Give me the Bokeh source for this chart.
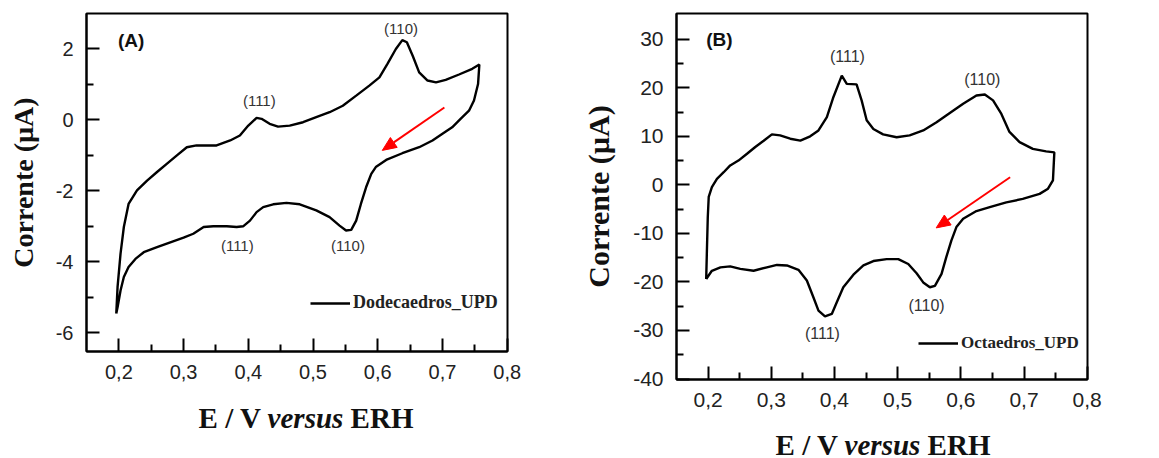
import math
from jinja2 import Template
from bokeh.plotting import figure
from bokeh.models import (FixedTicker, CustomJSTickFormatter, Label, Legend, LegendItem,
                          Range1d, Div)
from bokeh.embed import file_html
from bokeh.resources import INLINE

# ---------------- data: panel A (Dodecaedros) ----------------
E_A_anodic = [0.196, 0.198, 0.2026, 0.2077, 0.215, 0.228, 0.2436, 0.259, 0.274, 0.2897, 0.305, 0.320,
              0.336, 0.351, 0.372, 0.387, 0.400, 0.4128, 0.4205, 0.433, 0.446, 0.464, 0.4846, 0.505,
              0.5256, 0.546, 0.5667, 0.587, 0.6026, 0.615, 0.628, 0.638, 0.645, 0.654, 0.664, 0.677,
              0.690, 0.705, 0.7256, 0.746, 0.757]
I_A_anodic = [-5.46, -4.71, -3.77, -3.02, -2.37, -1.99, -1.71, -1.47, -1.24, -1.00, -0.77, -0.72,
              -0.72, -0.72, -0.58, -0.44, -0.16, 0.056, 0.03, -0.11, -0.19, -0.16, -0.066, 0.075,
              0.216, 0.40, 0.685, 0.967, 1.20, 1.58, 2.0, 2.25, 2.19, 1.81, 1.34, 1.11,
              1.06, 1.13, 1.28, 1.44, 1.56]
E_A_cathodic = [0.757, 0.755, 0.7487, 0.741, 0.728, 0.715, 0.700, 0.6846, 0.664, 0.638, 0.613, 0.597,
                0.590, 0.582, 0.574, 0.5667, 0.559, 0.551, 0.541, 0.5256, 0.505, 0.4795, 0.459, 0.4385,
                0.423, 0.4128, 0.4026, 0.392, 0.382, 0.3667, 0.346, 0.331, 0.315, 0.300, 0.2795, 0.259,
                0.2385, 0.2256, 0.215, 0.2077, 0.2026, 0.198, 0.196]
I_A_cathodic = [1.56, 1.01, 0.545, 0.26, 0.028, -0.21, -0.39, -0.58, -0.77, -0.94, -1.13, -1.33,
                -1.52, -1.90, -2.37, -2.84, -3.10, -3.12, -2.98, -2.74, -2.55, -2.38, -2.34, -2.38,
                -2.46, -2.60, -2.84, -3.00, -3.02, -3.00, -3.00, -3.02, -3.21, -3.32, -3.45, -3.59,
                -3.73, -3.92, -4.15, -4.43, -4.81, -5.28, -5.46]

# ---------------- data: panel B (Octaedros) ----------------
E_B_anodic = [0.197, 0.198, 0.1995, 0.201, 0.206, 0.214, 0.2247, 0.235, 0.248, 0.2616, 0.2747, 0.288,
              0.301, 0.314, 0.330, 0.346, 0.3616, 0.3747, 0.388, 0.3984, 0.4116, 0.4195, 0.435, 0.443,
              0.451, 0.4616, 0.477, 0.4984, 0.519, 0.5405, 0.5616, 0.5826, 0.6037, 0.6247, 0.638, 0.651,
              0.6642, 0.677, 0.693, 0.714, 0.735, 0.748]
I_B_anodic = [-19.4, -14.2, -6.67, -2.5, -0.48, 1.24, 2.6, 4.0, 5.0, 6.4, 7.8, 9.1,
              10.4, 10.2, 9.5, 9.1, 10.0, 11.2, 13.95, 18.1, 22.5, 20.8, 20.7, 17.4,
              13.3, 11.5, 10.4, 9.8, 10.2, 11.2, 12.9, 14.8, 16.7, 18.4, 18.6, 17.4,
              14.6, 10.9, 8.8, 7.4, 6.9, 6.7]
E_B_cathodic = [0.748, 0.7458, 0.738, 0.7247, 0.698, 0.672, 0.6458, 0.6247, 0.6037, 0.593, 0.585, 0.577,
                0.5695, 0.559, 0.551, 0.5405, 0.530, 0.5168, 0.501, 0.4826, 0.4616, 0.4458, 0.430, 0.414,
                0.4037, 0.3958, 0.385, 0.3747, 0.3668, 0.3563, 0.343, 0.3247, 0.309, 0.293, 0.272, 0.251,
                0.235, 0.2195, 0.206, 0.197]
I_B_cathodic = [6.7, 0.9, -0.8, -1.86, -2.9, -3.6, -4.6, -5.4, -7.0, -8.7, -11.5, -14.9,
                -18.35, -20.8, -21.1, -20.1, -18.2, -16.3, -15.3, -15.3, -15.7, -16.6, -18.5, -21.1,
                -24.2, -26.6, -27.1, -25.9, -23.2, -19.7, -17.5, -16.6, -16.5, -17.0, -17.7, -17.3,
                -16.8, -17.0, -17.7, -19.4]

# axis ranges and ticks
x_lim = (0.15, 0.8005)
y_lim_A = (-6.53, 3.0)
y_lim_B = (-40.1, 35.3)
x_ticks = [0.2, 0.3, 0.4, 0.5, 0.6, 0.7, 0.8]
x_minor = [0.25, 0.35, 0.45, 0.55, 0.65, 0.75]
y_ticks_A = [-6, -4, -2, 0, 2]
y_minor_A = [-5, -3, -1, 1]
y_ticks_B = [-40, -30, -20, -10, 0, 10, 20, 30]
y_minor_B = [-35, -25, -15, -5, 5, 15, 25]

# peak annotations (text, E, I)
peaks_A = [("(110)", 0.636, 2.59), ("(111)", 0.417, 0.545), ("(111)", 0.383, -3.54), ("(110)", 0.554, -3.54)]
peaks_B = [("(111)", 0.4205, 26.5), ("(110)", 0.634, 21.7), ("(110)", 0.5458, -24.9), ("(111)", 0.381, -30.7)]

# scan-direction arrows (x_start, y_start, x_end, y_end)
arrow_A = [0.703, 0.35, 0.607, -0.86]
arrow_B = [0.678, 1.57, 0.561, -8.87]

SANS = "Liberation Sans"
SERIF = "Liberation Serif"
MAJOR_PX, MINOR_PX = 13, 7
HEAD_LEN_PX, HEAD_HALF_PX = 14, 6
BORDER_TOP, BORDER_BOTTOM = 13, 44
WIDTH_A, WIDTH_B = 578, 575
HEIGHT_A, HEIGHT_B = 395, 423
PAGE_H = 458


def draw_arrow(p, arrow, frame_w, frame_h, y_range):
    # red scan arrow: shaft segment plus a filled triangular head (sizes in pixels)
    sx = frame_w / (x_lim[1] - x_lim[0])
    sy = frame_h / (y_range[1] - y_range[0])
    xs, ys, xe, ye = arrow
    ux, uy = (xe - xs) * sx, (ye - ys) * sy
    n = math.hypot(ux, uy)
    ux, uy = ux / n, uy / n
    bx = xe - ux * HEAD_LEN_PX / sx
    by = ye - uy * HEAD_LEN_PX / sy
    px, py = -uy, ux
    hx = [xe, bx + px * HEAD_HALF_PX / sx, bx - px * HEAD_HALF_PX / sx]
    hy = [ye, by + py * HEAD_HALF_PX / sy, by - py * HEAD_HALF_PX / sy]
    p.segment(x0=[xs], y0=[ys], x1=[bx], y1=[by], line_color="red", line_width=2)
    p.patch(hx, hy, fill_color="red", line_color="red", line_width=1)


def make_panel(width, height, mb_left, mb_right, y_range, yt, ym, E_an, I_an, E_ca, I_ca,
               tick_size, ylab_size, ylab_standoff, legend_text, legend_size, legend_loc,
               panel_tag, tag_pos, peaks, peak_size, arrow):
    p = figure(width=width, height=height, output_backend="svg", toolbar_location=None,
               x_range=Range1d(*x_lim), y_range=Range1d(*y_range),
               min_border_left=mb_left, min_border_right=mb_right,
               min_border_top=BORDER_TOP, min_border_bottom=BORDER_BOTTOM)
    p.xgrid.grid_line_color = None
    p.ygrid.grid_line_color = None
    p.outline_line_color = "black"
    p.outline_line_width = 2
    p.outline_line_alpha = 1

    r = p.line(E_an + E_ca, I_an + I_ca, line_color="black", line_width=2.4)

    for ax, ticks, minor in ((p.xaxis[0], x_ticks, x_minor), (p.yaxis[0], yt, ym)):
        ax.ticker = FixedTicker(ticks=ticks, minor_ticks=minor)
        ax.major_tick_in = MAJOR_PX
        ax.major_tick_out = 0
        ax.minor_tick_in = MINOR_PX
        ax.minor_tick_out = 0
        ax.major_tick_line_width = 2
        ax.minor_tick_line_width = 2
        ax.major_tick_line_color = "black"
        ax.minor_tick_line_color = "black"
        ax.axis_line_width = 2
        ax.axis_line_color = "black"
        ax.major_label_text_font = SANS
        ax.major_label_text_font_size = tick_size
        ax.major_label_text_color = "#222222"
        ax.major_label_standoff = 13

    p.xaxis[0].formatter = CustomJSTickFormatter(code="return tick.toFixed(1).replace('.', ',');")
    p.yaxis[0].formatter = CustomJSTickFormatter(code="return tick.toFixed(0);")

    p.yaxis[0].axis_label = "Corrente (\u00b5A)"
    p.yaxis[0].axis_label_text_font = SERIF
    p.yaxis[0].axis_label_text_font_style = "bold"
    p.yaxis[0].axis_label_text_font_size = ylab_size
    p.yaxis[0].axis_label_text_color = "#111111"
    p.yaxis[0].axis_label_standoff = ylab_standoff

    legend = Legend(items=[LegendItem(label=legend_text, renderers=[r])], location=legend_loc,
                    glyph_width=40, glyph_height=20, label_height=20, label_standoff=3,
                    padding=0, margin=0, spacing=0, border_line_alpha=0, background_fill_alpha=0,
                    label_text_font=SERIF, label_text_font_style="bold",
                    label_text_font_size=legend_size, label_text_color="#222222")
    p.add_layout(legend)

    p.add_layout(Label(x=tag_pos[0], y=tag_pos[1], text=panel_tag, text_align="center",
                       text_baseline="middle", text_font=SANS, text_font_style="bold",
                       text_font_size="19px", text_color="#111111"))
    for txt, ex, iy in peaks:
        p.add_layout(Label(x=ex, y=iy, text=txt, text_align="center", text_baseline="middle",
                           text_font=SANS, text_font_size=peak_size, text_color="#333333"))

    draw_arrow(p, arrow, width - mb_left - mb_right, height - BORDER_TOP - BORDER_BOTTOM, y_range)
    return p


def xlabel_div(width, height, center_x, top):
    html = (f'<div style="position:relative;width:{width}px;height:{height}px;'
            f"font-family:'Liberation Serif';font-size:29px;font-weight:bold;color:#111;line-height:28px;\">"
            f'<span style="position:absolute;left:{center_x}px;top:{top}px;transform:translateX(-50%);'
            f'white-space:nowrap;">E / V <i>versus</i> ERH</span></div>')
    return Div(text=html, width=width, height=height, margin=0)


pA = make_panel(WIDTH_A, HEIGHT_A, 86, 71, y_lim_A, y_ticks_A, y_minor_A,
                E_A_anodic, I_A_anodic, E_A_cathodic, I_A_cathodic,
                "20px", "28px", 14, "Dodecaedros_UPD", "18px", (224, 38), "(A)", (0.219, 2.25),
                peaks_A, "15px", arrow_A)

pB = make_panel(WIDTH_B, HEIGHT_B, 98, 66, y_lim_B, y_ticks_B, y_minor_B,
                E_B_anodic, I_B_anodic, E_B_cathodic, I_B_cathodic,
                "21px", "30px", 15, "Octaedros_UPD", "17px", (242, 26), "(B)", (0.218, 29.9),
                peaks_B, "16px", arrow_B)

dA = xlabel_div(WIDTH_A, PAGE_H - HEIGHT_A - 1, 306, 9)
dB = xlabel_div(WIDTH_B, PAGE_H - HEIGHT_B - 1, 305, 8)

# panels are placed side by side by CSS (each panel column: plot then its x label)
template = Template("""{% extends base %}
{% block postamble %}{{ super() }}
<style>
html, body { margin: 0; padding: 0; overflow: hidden; }
body { display: flex; flex-direction: column; flex-wrap: wrap; align-content: flex-start;
       align-items: flex-start; height: 458px; }
</style>
{% endblock %}""")

open("out.html", "w").write(file_html([pA, dA, pB, dB], INLINE, template=template))
